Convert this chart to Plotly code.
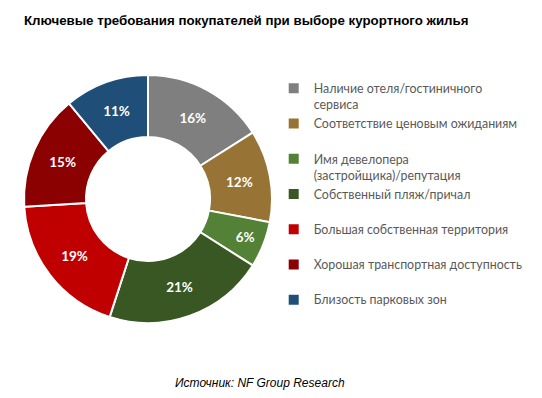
import plotly.graph_objects as go

categories = [
    "Наличие отеля/гостиничного<br>сервиса",
    "Соответствие ценовым ожиданиям",
    "Имя девелопера<br>(застройщика)/репутация",
    "Собственный пляж/причал",
    "Большая собственная территория",
    "Хорошая транспортная доступность",
    "Близость парковых зон",
]
values = [16, 12, 6, 21, 19, 15, 11]
colors = ["#7F7F7F", "#977335", "#538135", "#385723", "#C00000", "#8B0000", "#1F4E79"]

legend_labels = [c if "<br>" in c else c + "<br> " for c in categories]

fig = go.Figure(go.Pie(
    labels=legend_labels,
    values=values,
    hole=0.5,
    sort=False,
    direction="clockwise",
    rotation=0,
    marker=dict(colors=colors, line=dict(color="white", width=2)),
    texttemplate="%{value}%",
    textposition="inside",
    insidetextorientation="horizontal",
    textfont=dict(family="Lato, Open Sans, sans-serif", size=13.5, color="white", weight="bold"),
    domain=dict(x=[24/542, 272/542], y=[1-323/398, 1-75/398]),
))

fig.update_layout(
    width=542, height=398,
    margin=dict(l=0, r=0, t=0, b=0),
    paper_bgcolor="white",
    plot_bgcolor="white",
    showlegend=True,
    legend=dict(
        x=0.505, y=0.815, xanchor="left", yanchor="top",
        font=dict(family="Lato, Open Sans, sans-serif", size=12.4, color="#595959"),
        valign="top",
        itemwidth=30,
        traceorder="normal",
    ),
    annotations=[
        dict(text="<b>Ключевые требования покупателей при выборе курортного жилья</b>",
             x=22/542, y=1-20/398, xref="paper", yref="paper", xanchor="left", yanchor="middle",
             showarrow=False, font=dict(family="Liberation Sans, Arial, sans-serif", size=13.3, color="#000000")),
        dict(text="<i>Источник: NF Group Research</i>",
             x=260/542, y=1-383/398, xref="paper", yref="paper", xanchor="center", yanchor="middle",
             showarrow=False, font=dict(family="Liberation Sans, Arial, sans-serif", size=12, color="#000000")),
    ],
)

fig.write_html("out.html")
